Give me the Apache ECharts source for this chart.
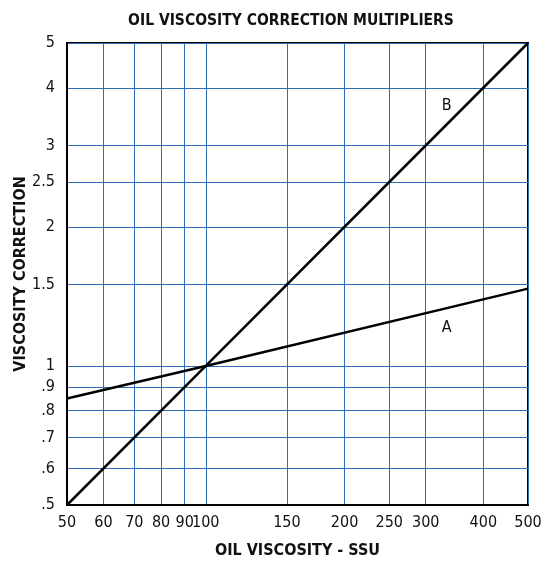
<!DOCTYPE html>
<html>
<head>
<meta charset="utf-8">
<script src="https://cdn.jsdelivr.net/npm/echarts@6/dist/echarts.min.js"></script>
<style>
html,body{margin:0;padding:0;background:#fff;}
#c{width:543px;height:561px;}
</style>
</head>
<body>
<div id="c"></div>
<script>
const ssu = [50, 100, 500];
const multA = [0.85, 1.0, 1.47];
const multB = [0.5, 1.0, 5.0];
const xTicks = [50, 60, 70, 80, 90, 100, 150, 200, 250, 300, 400, 500];
const yTicks = [0.5, 0.6, 0.7, 0.8, 0.9, 1, 1.5, 2, 2.5, 3, 4, 5];
const labelA = { text: 'A', x: 333, y: 1.21 };
const labelB = { text: 'B', x: 333, y: 3.65 };

const FONT = "'Liberation Sans Narrow', 'DejaVu Sans Condensed', 'Roboto', sans-serif";
const gridBlue = '#2f6db5';

function fmtY(v) {
  const r = Math.round(v * 100) / 100;
  return r < 1 ? String(r).replace(/^0\./, '.') : String(r);
}

const chart = echarts.init(document.getElementById('c'), null, { renderer: 'canvas' });
chart.setOption({
  animation: false,
  backgroundColor: '#fff',
  title: {
    text: 'OIL VISCOSITY CORRECTION MULTIPLIERS',
    left: 286, top: 8, textAlign: 'center',
    textStyle: { fontFamily: FONT, fontSize: 15.5, fontWeight: 'bold', color: '#111' }
  },
  grid: {
    left: 67, right: 15, top: 43, bottom: 56,
    containLabel: false, outerBoundsMode: 'none',
    show: true, borderColor: '#000', borderWidth: 2, backgroundColor: 'transparent'
  },
  xAxis: {
    type: 'log', logBase: 10, min: 50, max: 500,
    name: 'OIL VISCOSITY - SSU', nameLocation: 'middle', nameGap: 38,
    nameTextStyle: { fontFamily: FONT, fontSize: 16, fontWeight: 'bold', color: '#111' },
    axisLine: { show: true, lineStyle: { color: '#000', width: 2 } },
    axisTick: { show: false, customValues: xTicks },
    axisLabel: { customValues: xTicks, fontFamily: FONT, fontSize: 16, color: '#111', margin: 10,
      formatter: v => String(Math.round(v)) },
    splitLine: { show: true, lineStyle: { color: gridBlue, width: 1 } },
    minorSplitLine: { show: false }
  },
  yAxis: {
    type: 'log', logBase: 10, min: 0.5, max: 5,
    name: 'VISCOSITY CORRECTION', nameLocation: 'middle', nameGap: 38, nameRotate: 90,
    nameMoveOverlap: false,
    nameTextStyle: { fontFamily: FONT, fontSize: 16, fontWeight: 'bold', color: '#111' },
    axisLine: { show: true, lineStyle: { color: '#000', width: 2 } },
    axisTick: { show: false, customValues: yTicks },
    axisLabel: { customValues: yTicks, fontFamily: FONT, fontSize: 16, color: '#111', margin: 12,
      formatter: fmtY },
    splitLine: { show: true, lineStyle: { color: gridBlue, width: 1 } }
  },
  series: [
    {
      name: 'A', type: 'line', data: ssu.map((x, i) => [x, multA[i]]),
      showSymbol: false, lineStyle: { color: '#000', width: 2.5 }, z: 5,
      markPoint: {
        symbol: 'circle', symbolSize: 0,
        label: { show: true, formatter: labelA.text, fontFamily: FONT, fontSize: 16, color: '#111', position: 'inside' },
        data: [{ coord: [labelA.x, labelA.y] }]
      }
    },
    {
      name: 'B', type: 'line', data: ssu.map((x, i) => [x, multB[i]]),
      showSymbol: false, lineStyle: { color: '#000', width: 2.5 }, z: 5,
      markPoint: {
        symbol: 'circle', symbolSize: 0,
        label: { show: true, formatter: labelB.text, fontFamily: FONT, fontSize: 16, color: '#111', position: 'inside' },
        data: [{ coord: [labelB.x, labelB.y] }]
      }
    }
  ]
});
</script>
</body>
</html>
